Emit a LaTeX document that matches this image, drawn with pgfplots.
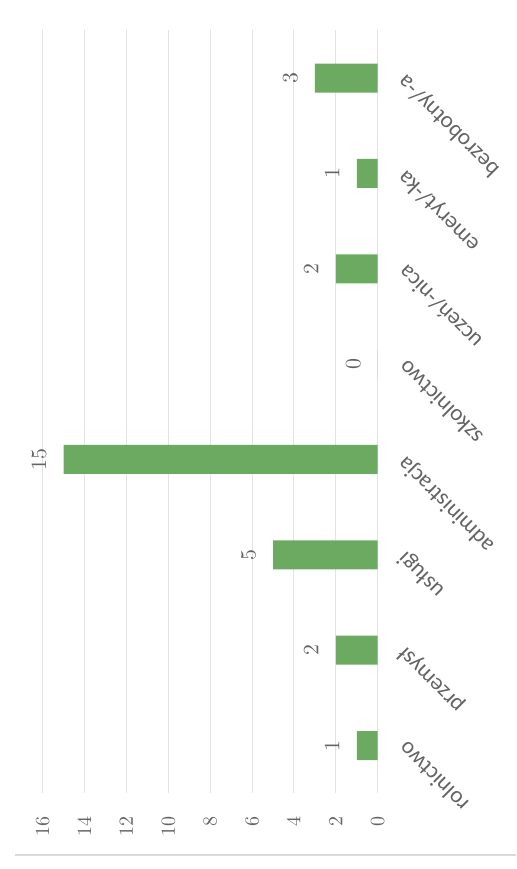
\documentclass[border=0pt]{standalone}
\usepackage{pgfplots}
\pgfplotsset{compat=1.18}
\usepackage{fontspec}
\newfontfamily\catfont{Carlito}
\definecolor{bargreen}{RGB}{108,170,98}
\definecolor{lbl}{RGB}{100,100,100}
\begin{document}
\begin{tikzpicture}
\path[use as bounding box] (0,0) rectangle (258pt,434.5pt);
\draw[gray!30, line width=0.6pt] (7.5pt,7pt) -- (258pt,7pt);
\begin{axis}[
  at={(105.1pt,228.6pt)}, anchor=center,
  scale only axis, width=167.5pt, height=381.45pt,
  xbar, bar width=14.5pt,
  x dir=reverse,
  xmin=0, xmax=16, ymin=-0.5, ymax=7.5,
  enlargelimits=false,
  xtick={0,2,...,16},
  ytick={0,...,7},
  yticklabels={rolnictwo, przemysł, usługi, administracja, szkolnictwo, uczeń/-nica, emeryt/-ka, bezrobotny/-a},
  xmajorgrids, ymajorgrids=false,
  major grid style={gray!22, line width=0.5pt},
  axis line style={draw=none},
  major tick length=0pt,
  yticklabel pos=right,
  xticklabel style={rotate=90, anchor=east, inner sep=0pt, font=\fontsize{10}{12}\selectfont, text=lbl},
  xticklabel shift=11.25pt,
  yticklabel style={rotate=135, anchor=east, inner sep=0pt, font=\catfont\fontsize{11.5}{13}\selectfont, text=lbl},
  yticklabel shift=12pt,
  nodes near coords,
  every node near coord/.append style={rotate=90, anchor=south, inner xsep=0pt, inner ysep=8.5pt, font=\fontsize{10.5}{12}\selectfont, text=lbl},
]
\addplot[fill=bargreen, draw=none] coordinates {(1,0) (2,1) (5,2) (15,3) (0,4) (2,5) (1,6) (3,7)};
\end{axis}
\end{tikzpicture}
\end{document}
